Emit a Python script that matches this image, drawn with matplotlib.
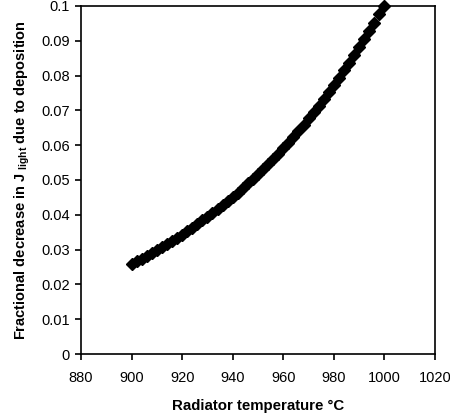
import matplotlib
matplotlib.use("Agg")
import matplotlib.pyplot as plt

plt.rcParams['font.family'] = ['Liberation Sans', 'DejaVu Sans']

temperature = list(range(900, 1001, 2))
fraction = [0.0260, 0.0267, 0.0274, 0.0282, 0.0291, 0.0300, 0.0308, 0.0317, 0.0325, 0.0334,
            0.0343, 0.0353, 0.0363, 0.0373, 0.0384, 0.0394, 0.0405, 0.0416, 0.0428, 0.0440,
            0.0452, 0.0464, 0.0477, 0.0490, 0.0503, 0.0517, 0.0531, 0.0545, 0.0560, 0.0575,
            0.0591, 0.0607, 0.0624, 0.0641, 0.0659, 0.0677, 0.0695, 0.0714, 0.0733, 0.0752,
            0.0772, 0.0793, 0.0815, 0.0837, 0.0860, 0.0883, 0.0906, 0.0929, 0.0952, 0.0976,
            0.1000]
xticks = [880, 900, 920, 940, 960, 980, 1000, 1020]
yticks = [0, 0.01, 0.02, 0.03, 0.04, 0.05, 0.06, 0.07, 0.08, 0.09, 0.1]
ytick_labels = ['0', '0.01', '0.02', '0.03', '0.04', '0.05', '0.06', '0.07', '0.08', '0.09', '0.1']

fig = plt.figure(figsize=(4.5, 4.17), dpi=100)
ax = fig.add_axes([81/450, 63/417, 354/450, 348/417])
ax.plot(temperature, fraction, linestyle='none', marker='D', markersize=6,
        color='black', clip_on=False)
ax.set_xlim(880, 1020)
ax.set_ylim(0, 0.1)
ax.set_xticks(xticks)
ax.set_xticklabels([str(t) for t in xticks])
ax.set_yticks(yticks)
ax.set_yticklabels(ytick_labels)
ax.tick_params(direction='out', length=4, width=1.2, labelsize=10.5, pad=4)
ax.tick_params(axis='x', pad=8)
for s in ax.spines.values():
    s.set_linewidth(1.2)
ax.set_xlabel('Radiator temperature °C', fontsize=10.8, fontweight='bold', labelpad=10)
ax.set_ylabel(r'Fractional decrease in J $_{\mathregular{light}}$ due to deposition',
              fontsize=10.5, fontweight='bold', labelpad=7)
fig.savefig('out.png', dpi=100)
